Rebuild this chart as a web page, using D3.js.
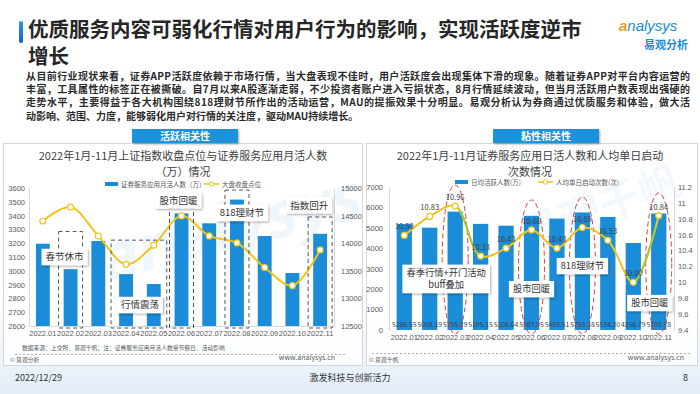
<!DOCTYPE html>
<html>
<head>
<meta charset="utf-8">
<script src="https://cdn.jsdelivr.net/npm/d3@7"></script>
<style>
  body { margin: 0; background: #fff; }
  svg { font-family: "Noto Sans CJK SC", "Noto Sans", sans-serif; display: block; }
</style>
</head>
<body>
<div id="chart"></div>
<script>
// data
var months = ["2022.01", "2022.02", "2022.03", "2022.04", "2022.05", "2022.06", "2022.07", "2022.08", "2022.09", "2022.10", "2022.11"];
var mauValues = [13990, 13530, 14040, 13440, 13260, 14540, 14360, 14790, 14130, 13460, 14170];
var indexValues = [3361, 3462, 3252, 3047, 3186, 3398, 3253, 3202, 3024, 2893, 3151];
var dauValues = [5186.55, 5008.19, 5795.29, 5195.15, 5106.64, 5587.05, 5453.51, 5753.38, 5534.20, 4256.79, 5702.78];
var launchValues = [10.59, 10.83, 10.96, 10.33, 10.43, 10.66, 10.43, 10.69, 10.53, 10.00, 10.84];

var indexTicks = [2600, 2700, 2800, 2900, 3000, 3100, 3200, 3300, 3400, 3500, 3600];
var mauTicks = [12500, 13000, 13500, 14000, 14500, 15000];
var dauTicks = [0, 1000, 2000, 3000, 4000, 5000, 6000, 7000];
var launchTicks = [9.4, 9.6, 9.8, 10, 10.2, 10.4, 10.6, 10.8, 11, 11.2];

var leftBoxMonths = [["2022.02"], ["2022.04", "2022.05"], ["2022.06"], ["2022.08"], ["2022.11"]];
var leftNotes = ["春节休市", "行情震荡", "股市回暖", "818理财节", "指数回升"];
var rightCircleMonths = ["2022.03", "2022.06", "2022.08", "2022.11"];
var rightNotes = [["春季行情+开门活动", "buff叠加"], ["股市回暖"], ["818理财节"], ["股市回暖"]];

var paragraph = [
  "从目前行业现状来看，证券APP活跃度依赖于市场行情，当大盘表现不佳时，用户活跃度会出现集体下滑的现象。随着证券APP对平台内容运营的",
  "丰富，工具属性的标签正在被撕破。自7月以来A股逐渐走弱，不少投资者账户进入亏损状态，8月行情延续波动，但当月活跃用户数表现出强硬的",
  "走势水平，主要得益于各大机构围绕818理财节所作出的活动运营，MAU的提振效果十分明显。易观分析认为券商通过优质服务和体验，做大活",
  "动影响、范围、力度，能够弱化用户对行情的关注度，驱动MAU持续增长。"
];

var blue = "#1a8cd8";
var yellow = "#f2c318";
var svgWidth = 700, svgHeight = 394;

var svg = d3.select("#chart").append("svg").attr("width", svgWidth).attr("height", svgHeight);
var defs = svg.append("defs");
var bgGrad = defs.append("linearGradient").attr("id", "bg").attr("x1", 0).attr("y1", 0).attr("x2", 0).attr("y2", 1);
bgGrad.append("stop").attr("offset", "0").attr("stop-color", "#ffffff");
bgGrad.append("stop").attr("offset", "1").attr("stop-color", "#e3edf7");
var barGrad = defs.append("linearGradient").attr("id", "tbar").attr("x1", 0).attr("y1", 0).attr("x2", 0).attr("y2", 1);
barGrad.append("stop").attr("offset", "0").attr("stop-color", "#2f9be6");
barGrad.append("stop").attr("offset", "1").attr("stop-color", "#1560b0");
var shadow = defs.append("filter").attr("id", "shadow").attr("x", "-20%").attr("y", "-30%").attr("width", "150%").attr("height", "180%");
shadow.append("feDropShadow").attr("dx", 1).attr("dy", 1.2).attr("stdDeviation", 1.2).attr("flood-opacity", 0.35);

// background
svg.append("rect").attr("width", svgWidth).attr("height", svgHeight).attr("fill", "#fff");
svg.append("rect").attr("y", 290).attr("width", svgWidth).attr("height", 104).attr("fill", "url(#bg)");

// header
svg.append("rect").attr("x", 19).attr("y", 21).attr("width", 4).attr("height", 22).attr("rx", 2).attr("fill", "url(#tbar)");
svg.append("text").attr("x", 28).attr("y", 37).attr("font-size", 20.5).attr("font-weight", "bold").attr("fill", "#262626")
  .text("优质服务内容可弱化行情对用户行为的影响，实现活跃度逆市");
svg.append("text").attr("x", 28).attr("y", 64).attr("font-size", 20.5).attr("font-weight", "bold").attr("fill", "#262626").text("增长");

var logo = svg.append("text").attr("x", 619).attr("y", 31).attr("font-size", 15).attr("font-style", "italic").attr("font-family", "Liberation Sans, sans-serif");
logo.append("tspan").attr("fill", "#f29a1f").attr("font-weight", "bold").text("a");
logo.append("tspan").attr("fill", "#1a8cd8").text("nalysys");
svg.append("text").attr("x", 688).attr("y", 49).attr("text-anchor", "end").attr("font-size", 11).attr("font-weight", "bold").attr("fill", "#1a8cd8").text("易观分析");

paragraph.forEach(function(line, i) {
  var t = svg.append("text").attr("x", 26).attr("y", 80 + i * 13.2).attr("font-size", 10).attr("font-weight", 600).attr("fill", "#2b2b2b").text(line);
  if (i < paragraph.length - 1) t.attr("textLength", 664).attr("lengthAdjust", "spacing");
});

// panels
svg.append("rect").attr("x", 3.5).attr("y", 143.5).attr("width", 359).attr("height", 222).attr("fill", "#fff").attr("fill-opacity", 0.85).attr("stroke", "#d6d6d6");
svg.append("rect").attr("x", 366.5).attr("y", 143.5).attr("width", 331).attr("height", 222).attr("fill", "#fff").attr("fill-opacity", 0.85).attr("stroke", "#d6d6d6");

[["活跃相关性", 132], ["粘性相关性", 493]].forEach(function(tab) {
  svg.append("rect").attr("x", tab[1]).attr("y", 129).attr("width", 106).attr("height", 14).attr("fill", "#1d92db").attr("filter", "url(#shadow)");
  svg.append("text").attr("x", tab[1] + 53).attr("y", 140).attr("text-anchor", "middle").attr("font-size", 10).attr("font-weight", "bold").attr("fill", "#fff").text(tab[0]);
});

// footer
svg.append("text").attr("x", 15).attr("y", 381).attr("font-size", 9).attr("fill", "#333").text("2022/12/29");
svg.append("text").attr("x", 350).attr("y", 381).attr("text-anchor", "middle").attr("font-size", 9).attr("fill", "#333").text("激发科技与创新活力");
svg.append("text").attr("x", 683).attr("y", 381).attr("font-size", 9).attr("fill", "#333").text("8");

// helpers
function noteBox(g, cx, cy, lines, fs) {
  var box = g.append("g");
  var rect = box.append("rect").attr("fill", "#fff").attr("filter", "url(#shadow)");
  var w = 0;
  lines.forEach(function(l, i) {
    var t = box.append("text").attr("x", cx).attr("y", cy + (i - (lines.length - 1) / 2) * (fs + 3) + fs * 0.36)
      .attr("text-anchor", "middle").attr("font-size", fs).attr("fill", "#333").text(l);
    w = Math.max(w, t.node().getComputedTextLength());
  });
  var h = lines.length * (fs + 3) + 4;
  rect.attr("x", cx - w / 2 - 4).attr("y", cy - h / 2).attr("width", w + 8).attr("height", h);
}

function styleAxis(a) {
  a.selectAll("text").attr("fill", "#595959").attr("font-size", 7.5);
  a.select(".domain").attr("stroke", "#d9d9d9");
}

// ---------- left chart ----------
var left = svg.append("g");
var xL = d3.scaleBand().domain(months).range([29, 334]).paddingInner(0.5).paddingOuter(0.25);
var yIdx = d3.scaleLinear().domain([2600, 3600]).range([326, 188]);
var yMau = d3.scaleLinear().domain([12500, 15000]).range([326, 188]);

left.append("text").attr("x", 96).attr("y", 262).attr("font-size", 62).attr("font-style", "italic").attr("font-weight", "bold")
  .attr("fill", "#8cc2ea").attr("opacity", 0.13).attr("transform", "rotate(-14,180,240)").text("analysys");

left.append("text").attr("x", 183).attr("y", 160).attr("text-anchor", "middle").attr("font-size", 11).attr("fill", "#404040")
  .text("2022年1月-11月上证指数收盘点位与证券服务应用月活人数");
left.append("text").attr("x", 183).attr("y", 175.5).attr("text-anchor", "middle").attr("font-size", 11).attr("fill", "#404040").text("（万）情况");

left.append("rect").attr("x", 105).attr("y", 182).attr("width", 13).attr("height", 4).attr("fill", blue);
left.append("text").attr("x", 121).attr("y", 186.5).attr("font-size", 6.5).attr("fill", "#595959").text("证券服务应用月活人数（万）");
left.append("line").attr("x1", 204).attr("x2", 219).attr("y1", 184).attr("y2", 184).attr("stroke", yellow).attr("stroke-width", 1.5);
left.append("circle").attr("cx", 211.5).attr("cy", 184).attr("r", 2.2).attr("fill", "#fff").attr("stroke", yellow);
left.append("text").attr("x", 222).attr("y", 186.5).attr("font-size", 6.5).attr("fill", "#595959").text("大盘收盘点位");

var axL = left.append("g").attr("transform", "translate(29,0)").call(d3.axisLeft(yIdx).tickValues(indexTicks).tickSize(0).tickPadding(4).tickFormat(d3.format("d")));
styleAxis(axL);
var axR = left.append("g").attr("transform", "translate(334,0)").call(d3.axisRight(yMau).tickValues(mauTicks).tickSize(0).tickPadding(7).tickFormat(d3.format("d")));
styleAxis(axR);
var axB = left.append("g").attr("transform", "translate(0,326)").call(d3.axisBottom(xL).tickSize(0).tickPadding(5).tickSizeOuter(0));
styleAxis(axB);

left.selectAll(".mau").data(mauValues).enter().append("rect")
  .attr("x", function(d, i) { return xL(months[i]); })
  .attr("width", xL.bandwidth())
  .attr("y", function(d) { return yMau(d); })
  .attr("height", function(d) { return 326 - yMau(d); })
  .attr("fill", blue);

var lineL = d3.line().x(function(d, i) { return xL(months[i]) + xL.bandwidth() / 2; }).y(function(d) { return yIdx(d); }).curve(d3.curveCatmullRom.alpha(0.5));
left.append("path").datum(indexValues).attr("d", lineL).attr("fill", "none").attr("stroke", yellow).attr("stroke-width", 2);
left.selectAll(".pt").data(indexValues).enter().append("circle")
  .attr("cx", function(d, i) { return xL(months[i]) + xL.bandwidth() / 2; })
  .attr("cy", function(d) { return yIdx(d); })
  .attr("r", 3).attr("fill", "#fff").attr("stroke", yellow).attr("stroke-width", 1.2);

// dashed boxes and notes
var boxTops = [3285, 3222, 3455, 3585, 3390];
var noteSpots = [[-6, 3100], [0, 2752], [-3, 3510], [5, 3420], [-11, 3475]];
leftBoxMonths.forEach(function(ms, i) {
  var x0 = xL(ms[0]) + xL.bandwidth() / 2 - 12;
  var x1 = xL(ms[ms.length - 1]) + xL.bandwidth() / 2 + 12;
  if (ms.length > 1) { x0 -= 3; x1 += 1; }
  left.append("rect").attr("x", x0).attr("y", yIdx(boxTops[i])).attr("width", x1 - x0).attr("height", 328 - yIdx(boxTops[i]))
    .attr("fill", "none").attr("stroke", "#555").attr("stroke-width", 1).attr("stroke-dasharray", "4,3");
});
leftBoxMonths.forEach(function(ms, i) {
  var cx = (xL(ms[0]) + xL(ms[ms.length - 1])) / 2 + xL.bandwidth() / 2 + noteSpots[i][0];
  noteBox(left, cx, yIdx(noteSpots[i][1]), [leftNotes[i]], 9.5);
});

left.append("text").attr("x", 22).attr("y", 350).attr("font-size", 5.8).attr("fill", "#595959")
  .text("数据来源：上交所、易观千帆；注：证券服务应用月活人数受节假日、活动影响");
left.append("line").attr("x1", 15).attr("x2", 345).attr("y1", 354.5).attr("y2", 354.5).attr("stroke", "#b0b0b0").attr("stroke-dasharray", "2,2");
left.append("text").attr("x", 10).attr("y", 362).attr("font-size", 5.8).attr("fill", "#595959").text("© 易观分析");
left.append("text").attr("x", 335).attr("y", 360).attr("text-anchor", "end").attr("font-size", 7).attr("fill", "#595959").text("www.analysys.cn");

// ---------- right chart ----------
var right = svg.append("g");
var xR = d3.scaleBand().domain(months).range([389, 674]).paddingInner(0.4).paddingOuter(0.3);
var yDau = d3.scaleLinear().domain([0, 7000]).range([330, 187]);
var yLaunch = d3.scaleLinear().domain([9.4, 11.2]).range([330, 187]);
var cxR = function(m) { return xR(m) + xR.bandwidth() / 2; };

right.append("text").attr("x", 520).attr("y", 238).attr("font-size", 42).attr("font-weight", "bold")
  .attr("fill", "#8cc2ea").attr("opacity", 0.1).attr("transform", "rotate(-20,560,225)").text("易观千帆");

right.append("text").attr("x", 530).attr("y", 160).attr("text-anchor", "middle").attr("font-size", 11).attr("fill", "#404040")
  .text("2022年1月-11月证券服务应用日活人数和人均单日启动");
right.append("text").attr("x", 530).attr("y", 175.5).attr("text-anchor", "middle").attr("font-size", 11).attr("fill", "#404040").text("次数情况");

right.append("rect").attr("x", 455).attr("y", 180).attr("width", 13).attr("height", 4).attr("fill", blue);
right.append("text").attr("x", 471).attr("y", 184.5).attr("font-size", 6.5).attr("fill", "#595959").text("日均活跃人数(万)");
right.append("line").attr("x1", 538).attr("x2", 553).attr("y1", 182).attr("y2", 182).attr("stroke", yellow).attr("stroke-width", 1.5);
right.append("circle").attr("cx", 545.5).attr("cy", 182).attr("r", 2.2).attr("fill", "#fff").attr("stroke", yellow);
right.append("text").attr("x", 556).attr("y", 184.5).attr("font-size", 6.5).attr("fill", "#595959").text("人均单日启动次数(次)");

var axL2 = right.append("g").attr("transform", "translate(389,0)").call(d3.axisLeft(yDau).tickValues(dauTicks).tickSize(0).tickPadding(6).tickFormat(d3.format("d")));
styleAxis(axL2);
var axR2 = right.append("g").attr("transform", "translate(674,0)").call(d3.axisRight(yLaunch).tickValues(launchTicks).tickSize(0).tickPadding(4).tickFormat(function(d) { return d3.format("")(+d.toFixed(1)); }));
styleAxis(axR2);
var axB2 = right.append("g").attr("transform", "translate(0,330)").call(d3.axisBottom(xR).tickSize(0).tickPadding(5).tickSizeOuter(0));
styleAxis(axB2);
axB2.select(".domain").remove();

right.selectAll(".dau").data(dauValues).enter().append("rect")
  .attr("x", function(d, i) { return xR(months[i]); })
  .attr("width", xR.bandwidth())
  .attr("y", function(d) { return yDau(d); })
  .attr("height", function(d) { return 330 - yDau(d); })
  .attr("fill", blue);

right.selectAll(".dauLab").data(dauValues).enter().append("text")
  .attr("x", function(d, i) { return cxR(months[i]); })
  .attr("y", 326.5).attr("text-anchor", "middle").attr("font-size", 6.8).attr("fill", "#404040")
  .text(function(d) { return d3.format(".2f")(d); });

// red dashed ellipses
var ellTops = [185, 200, 197, 193];
rightCircleMonths.forEach(function(m, i) {
  right.append("ellipse").attr("cx", cxR(m)).attr("cy", (ellTops[i] + 334) / 2).attr("rx", 13).attr("ry", (334 - ellTops[i]) / 2)
    .attr("fill", "none").attr("stroke", "#d9423c").attr("stroke-width", 1).attr("stroke-dasharray", "5,3");
});

var lineR = d3.line().x(function(d, i) { return cxR(months[i]); }).y(function(d) { return yLaunch(d); }).curve(d3.curveCatmullRom.alpha(0.5));
right.append("path").datum(launchValues).attr("d", lineR).attr("fill", "none").attr("stroke", yellow).attr("stroke-width", 2);
// greenish highlighted segments
[["2022.03", "2022.04"], ["2022.10", "2022.11"]].forEach(function(seg, i) {
  defs.append("clipPath").attr("id", "seg" + i).append("rect")
    .attr("x", cxR(seg[0]) + 3).attr("y", 180).attr("width", cxR(seg[1]) - cxR(seg[0]) - 6).attr("height", 160);
  right.append("path").datum(launchValues).attr("d", lineR).attr("fill", "none").attr("stroke", "#a8c63a").attr("stroke-width", 2).attr("clip-path", "url(#seg" + i + ")");
});
right.selectAll(".pt2").data(launchValues).enter().append("circle")
  .attr("cx", function(d, i) { return cxR(months[i]); })
  .attr("cy", function(d) { return yLaunch(d); })
  .attr("r", 3).attr("fill", "#fff").attr("stroke", yellow).attr("stroke-width", 1.2);
right.selectAll(".ptLab").data(launchValues).enter().append("text")
  .attr("x", function(d, i) { return cxR(months[i]); })
  .attr("y", function(d) { return yLaunch(d) - 6; })
  .attr("text-anchor", "middle").attr("font-size", 7.5).attr("fill", "#404040")
  .text(function(d) { return d3.format(".2f")(d); });

var rightSpots = [["2022.03", -9, 2500], ["2022.06", 0, 2000], ["2022.08", 0, 3130], ["2022.11", -9, 1320]];
rightSpots.forEach(function(s, i) {
  noteBox(right, cxR(s[0]) + s[1], yDau(s[2]), rightNotes[i], 9.3);
});

right.append("line").attr("x1", 372).attr("x2", 690).attr("y1", 353.5).attr("y2", 353.5).attr("stroke", "#b0b0b0").attr("stroke-dasharray", "2,2");
right.append("text").attr("x", 369).attr("y", 362).attr("font-size", 5.8).attr("fill", "#595959").text("© 易观千帆");
right.append("text").attr("x", 684).attr("y", 360).attr("text-anchor", "end").attr("font-size", 7).attr("fill", "#595959").text("www.analysys.cn");
</script>
</body>
</html>
